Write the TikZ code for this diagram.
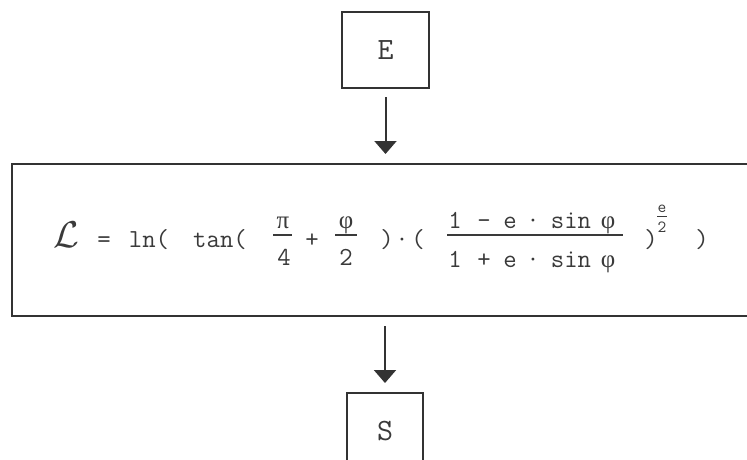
\documentclass[tikz,border=0pt]{standalone}
\usepackage{fontspec}
\newfontfamily\greekserif{Liberation Serif}
\usetikzlibrary{arrows.meta}
\definecolor{ink}{HTML}{3A3A3A}
\definecolor{edge}{HTML}{333333}
\tikzset{
  box/.style={draw=edge, line width=2pt, inner sep=0pt, text=ink,
              font=\fontsize{31}{31}\selectfont\ttfamily},
  arr/.style={draw=edge, line width=2pt, -{Triangle[width=22pt,length=13pt]}},
  tok/.style={inner sep=0pt, anchor=base, text=ink,
              font=\fontsize{26}{26}\selectfont\ttfamily},
  gtok/.style={inner sep=0pt, anchor=base, text=ink,
              font=\fontsize{25}{25}\selectfont\greekserif},
  stok/.style={inner sep=0pt, anchor=base, text=ink,
              font=\fontsize{17}{17}\selectfont\ttfamily},
  bar/.style={draw=ink, line width=2.4pt},
  sbar/.style={draw=ink, line width=1.3pt}
}
\begin{document}
\begin{tikzpicture}[x=1pt,y=-1pt]
\clip (0,0) rectangle (747,459);
\fill[white] (0,0) rectangle (747,459);
% boxes
\node[box, minimum width=87, minimum height=76] (E) at (385.5,50) {E};
\node[box, minimum width=748, minimum height=152] (F) at (386,240) {};
\node[box, minimum width=76, minimum height=77] (S) at (385,431.5) {S};
% arrows
\draw[arr, shorten <=8pt, shorten >=9pt] (E.south) -- (E.south |- F.north);
\draw[arr, shorten <=9pt, shorten >=9pt] (S.north |- F.south) -- (S.north);
% formula
\node[inner sep=0pt, anchor=base, text=ink, font=\fontsize{24}{24}\selectfont] (L) at (66,247) {\scalebox{1.5}{$\mathcal{L}$}};
\node[tok] (eq) at (104,247) {=};
\node[tok] (ln) at (149,247) {ln(};
\node[tok] (tan) at (220,247) {tan(};
\node[gtok] (pi) at (283,228) {π};
\draw[bar] (273,235) -- (292,235);
\node[tok] (four) at (284,265) {4};
\node[tok] (plus) at (312,247) {+};
\node[gtok] (phi) at (346,228) {φ};
\draw[bar] (335,235) -- (357,235);
\node[tok] (two) at (346,265) {2};
\node[tok] (rp1) at (387,247) {)};
\node[tok] (dot) at (402,247) {·};
\node[tok] (lp2) at (418,247) {(};
% big fraction
\node[tok] (n1) at (455,228) {1};
\node[tok] (n2) at (484,228) {–};
\node[tok] (n3) at (510,228) {e};
\node[tok] (n4) at (533,228) {·};
\node[tok] (n5) at (571,228) {sin};
\node[gtok] (n6) at (608,228) {φ};
\draw[bar] (447,235) -- (623,235);
\node[tok] (d1) at (455,267) {1};
\node[tok] (d2) at (484,267) {+};
\node[tok] (d3) at (510,267) {e};
\node[tok] (d4) at (533,267) {·};
\node[tok] (d5) at (571,267) {sin};
\node[gtok] (d6) at (608,267) {φ};
% power
\node[tok] (rp2) at (651,247) {)};
\node[stok] (se) at (662,212) {e};
\draw[sbar] (657,216.5) -- (667,216.5);
\node[stok] (s2) at (662,232) {2};
\node[tok] (rp3) at (702,247) {)};
\end{tikzpicture}
\end{document}
